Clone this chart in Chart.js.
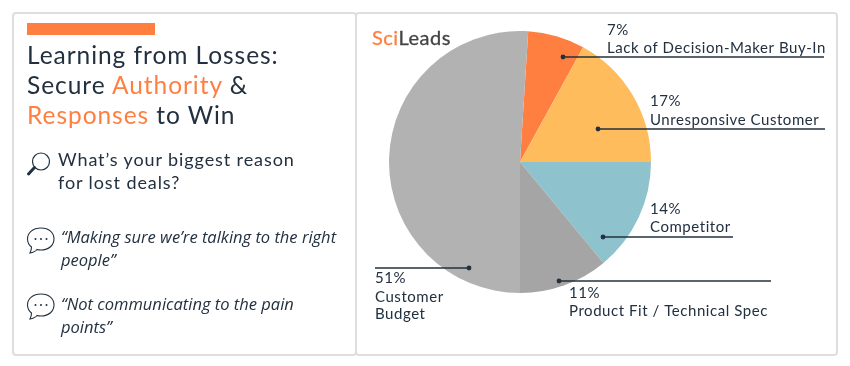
<!DOCTYPE html>
<html>
<head>
<meta charset="utf-8">
<title>Learning from Losses</title>
<script src="https://cdn.jsdelivr.net/npm/chart.js@4"></script>
<style>
  html, body { margin: 0; padding: 0; background: #fff; }
  body { position: relative; width: 850px; height: 366px; overflow: hidden; font-family: Lato, sans-serif; color: #22303f; }
  canvas { position: absolute; left: 0; top: 0; }
  .panel { position: absolute; box-sizing: border-box; border: 2px solid #dedede; border-radius: 4px; }
  .bar { position: absolute; left: 27px; top: 23px; width: 128px; height: 12px; background: #ff7f41; }
  .line { position: absolute; white-space: nowrap; line-height: 1; }
  .title { left: 27px; font-size: 24.5px; letter-spacing: 0.95px; }
  .ask { left: 58px; font-size: 18px; letter-spacing: 0.9px; }
  .quote { left: 61px; font-family: "Open Sans", sans-serif; font-style: italic; font-size: 16.5px; }
  .logo { left: 372px; top: 27px; font-size: 20px; letter-spacing: 0.5px; color: #444; -webkit-text-stroke: 0.3px; }
  .hl { color: #ff7f41; }
  svg { position: absolute; fill: none; stroke: #22303f; }
</style>
</head>
<body>
<div class="panel" style="left:12px;top:12px;width:345px;height:344px"></div>
<div class="panel" style="left:355px;top:12px;width:483px;height:344px"></div>
<canvas id="pieChart" width="850" height="366"></canvas>

<div class="bar"></div>
<div class="line title" style="top:43px">Learning from Losses:</div>
<div class="line title" style="top:73px">Secure <span class="hl">Authority</span> &amp;</div>
<div class="line title" style="top:103px"><span class="hl">Responses</span> to Win</div>

<svg style="left:26px;top:151px" width="26" height="26" viewBox="0 0 26 26">
  <circle cx="15" cy="10.5" r="8.5" stroke-width="1.2"/>
  <path d="M8.5 16.5 L2.5 23" stroke-width="3" stroke-linecap="round"/>
</svg>
<div class="line ask" style="top:150px">What’s your biggest reason</div>
<div class="line ask" style="top:173px">for lost deals?</div>

<svg style="left:26px;top:226px" width="30" height="30" viewBox="0 0 30 30">
  <path d="M15 2 C7 2 1.5 6.5 1.5 13 C1.5 16.5 3 19 5.5 21 C5.5 23 5 25 4 27 C7 26.5 9.5 25.5 11 23.5 C12.5 24 14 24 15 24 C23 24 28 19 28 13 C28 6.5 23 2 15 2 Z" stroke-width="1.1"/>
  <circle cx="9.5" cy="13" r="1" fill="#22303f" stroke="none"/>
  <circle cx="15" cy="13" r="1" fill="#22303f" stroke="none"/>
  <circle cx="20.5" cy="13" r="1" fill="#22303f" stroke="none"/>
</svg>
<div class="line quote" style="top:229px">“Making sure we’re talking to the right</div>
<div class="line quote" style="top:252px">people”</div>

<svg style="left:26px;top:292px" width="30" height="30" viewBox="0 0 30 30">
  <path d="M15 2 C7 2 1.5 6.5 1.5 13 C1.5 16.5 3 19 5.5 21 C5.5 23 5 25 4 27 C7 26.5 9.5 25.5 11 23.5 C12.5 24 14 24 15 24 C23 24 28 19 28 13 C28 6.5 23 2 15 2 Z" stroke-width="1.1"/>
  <circle cx="9.5" cy="13" r="1" fill="#22303f" stroke="none"/>
  <circle cx="15" cy="13" r="1" fill="#22303f" stroke="none"/>
  <circle cx="20.5" cy="13" r="1" fill="#22303f" stroke="none"/>
</svg>
<div class="line quote" style="top:296px">“Not communicating to the pain</div>
<div class="line quote" style="top:319px">points”</div>

<div class="line logo"><span class="hl">Sci</span>Leads</div>

<script>
const categories = [
  "Lack of Decision-Maker Buy-In",
  "Unresponsive Customer",
  "Competitor",
  "Product Fit / Technical Spec",
  ["Customer", "Budget"]
];
const shares = [7, 17, 14, 11, 51];
const sliceColors = ["#ff7f41", "#ffbc5c", "#8ec3ce", "#a5a5a5", "#b2b2b2"];

// where each callout sits: dot offset from pie center, line end x, label x and baselines
const callouts = [
  { dx: 43, dy: -105, lineTo: 824, textX: 607, pctY: 35, nameY: 53 },
  { dx: 78, dy: -33, lineTo: 825, textX: 650, pctY: 106, nameY: 125 },
  { dx: 83, dy: 75, lineTo: 733, textX: 650, pctY: 214, nameY: 232 },
  { dx: 39, dy: 119, lineTo: 771, textX: 569, pctY: 298, nameY: 316 },
  { dx: -51, dy: 106, lineTo: 375, textX: 375, pctY: 283, nameY: 302 }
];

const calloutPlugin = {
  id: "callouts",
  afterDatasetsDraw(chart) {
    const ctx = chart.ctx;
    const arcs = chart.getDatasetMeta(0).data;
    ctx.save();
    callouts.forEach((c, i) => {
      const x = arcs[i].x + c.dx;
      const y = arcs[i].y + c.dy;

      ctx.strokeStyle = "#22303f";
      ctx.fillStyle = "#22303f";
      ctx.lineWidth = 1.5;
      ctx.beginPath();
      ctx.moveTo(x, y);
      ctx.lineTo(c.lineTo, y);
      ctx.stroke();
      ctx.beginPath();
      ctx.arc(x, y, 2.4, 0, Math.PI * 2);
      ctx.fill();

      ctx.font = "15px Lato, sans-serif";
      ctx.letterSpacing = "0.55px";
      ctx.textAlign = "left";
      ctx.fillText(shares[i] + "%", c.textX, c.pctY);
      [].concat(categories[i]).forEach((line, n) => {
        ctx.fillText(line, c.textX, c.nameY + n * 17);
      });
    });
    ctx.restore();
  }
};

new Chart(document.getElementById("pieChart"), {
  type: "pie",
  data: {
    labels: categories,
    datasets: [{
      data: shares,
      backgroundColor: sliceColors,
      borderWidth: 0
    }]
  },
  options: {
    responsive: false,
    animation: false,
    rotation: 3.6,
    layout: { padding: { left: 389, right: 199, top: 31, bottom: 73 } },
    plugins: {
      legend: { display: false },
      tooltip: { enabled: false }
    }
  },
  plugins: [calloutPlugin]
});
</script>
</body>
</html>
